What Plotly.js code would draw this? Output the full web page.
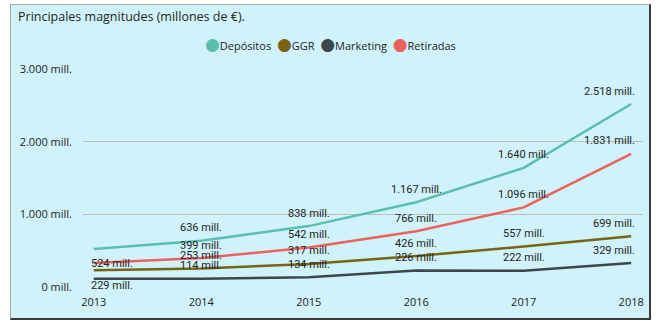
<!DOCTYPE html>
<html>
<head>
<meta charset="utf-8">
<script src="https://cdn.plot.ly/plotly-3.0.1.min.js"></script>
<style>
  html, body { margin: 0; padding: 0; background: #ffffff; }
  #wrap { position: relative; width: 660px; height: 328px; overflow: hidden; }
  #box { position: absolute; left: 10px; top: 4px; width: 638px; height: 313px;
         background: #cff2fb; border-top: 1px solid #a8a8a8; border-left: 1px solid #a8a8a8;
         border-right: 2px solid #3a3a3a; border-bottom: 2px solid #3a3a3a; }
  #chart { position: absolute; left: 0; top: 0; width: 660px; height: 328px; }
</style>
</head>
<body>
<div id="wrap"><div id="box"></div><div id="chart"></div></div>
<script>
const years = [2013, 2014, 2015, 2016, 2017, 2018];
const depositos = [524, 636, 838, 1167, 1640, 2518];
const ggr = [229, 253, 317, 426, 557, 699];
const marketing = [112, 114, 134, 226, 222, 329];
const retiradas = [330, 399, 542, 766, 1096, 1831];
const seriesNames = ['Depósitos', 'GGR', 'Marketing', 'Retiradas'];
const seriesColors = ['#5cbfae', '#7a6314', '#3b474b', '#ec615b'];
// which data labels are visible in the reference (others are hidden by overlap)
const labelShown = [
  [true, true, true, true, true, true],
  [true, true, true, true, true, true],
  [false, true, true, true, true, true],
  [false, true, true, true, true, true]
];
const labelBelow = [
  [true, false, false, false, false, false],
  [true, false, false, false, false, false],
  [false, false, false, false, false, false],
  [false, false, false, false, false, false]
];
const yTicks = [0, 1000, 2000, 3000];

const fmt = v => v.toLocaleString('de-DE') + ' mill.';
const values = [depositos, ggr, marketing, retiradas];
const textColor = '#252423';
const labelFont = { family: 'Roboto, "Noto Sans", sans-serif', size: 11, color: textColor };

const traces = values.map((vals, s) => ({
  type: 'scatter', mode: 'lines', x: years, y: vals,
  name: seriesNames[s], showlegend: false,
  line: { color: seriesColors[s], width: 2.5 }, hoverinfo: 'skip'
}));

const annotations = [];
values.forEach((vals, s) => {
  vals.forEach((v, i) => {
    if (!labelShown[s][i]) return;
    const first = i === 0, last = i === vals.length - 1;
    annotations.push({
      xref: 'x', yref: 'y', x: years[i], y: v, text: fmt(v), showarrow: false,
      font: labelFont, yanchor: 'middle',
      xanchor: first ? 'left' : (last ? 'right' : 'center'),
      xshift: first ? -5 : (last ? 6 : 0),
      yshift: labelBelow[s][i] ? -15 : 13
    });
  });
});

// legend drawn as a single centred text line with coloured dots
const legendText = seriesNames.map((n, s) =>
  '<span style="color:' + seriesColors[s] + ';font-size:17px;font-family:DejaVu Sans">●</span>' + n
).join('  ');
annotations.push({
  xref: 'paper', yref: 'paper', x: (330 - 83) / 560, y: (287.3 - 45) / 217.8,
  xanchor: 'center', yanchor: 'middle', showarrow: false, text: legendText,
  font: { family: '"Open Sans", "Noto Sans", sans-serif', size: 11, color: textColor }
});

const layout = {
  width: 660, height: 328,
  margin: { l: 83, r: 17, t: 69, b: 41 },
  paper_bgcolor: 'rgba(0,0,0,0)', plot_bgcolor: 'rgba(0,0,0,0)',
  separators: ',.',
  font: { family: '"Open Sans", "Noto Sans", sans-serif', size: 11, color: textColor },
  title: {
    text: 'Principales magnitudes (millones de €).',
    font: { family: '"Open Sans", "Noto Sans", sans-serif', size: 12.5, color: textColor },
    xref: 'container', yref: 'container', x: 18 / 660, xanchor: 'left',
    y: 1 - 17 / 328, yanchor: 'middle'
  },
  showlegend: false,
  xaxis: {
    range: [2012.9, 2018.11], tickvals: years, ticktext: years.map(String),
    showgrid: false, zeroline: false, showline: false, fixedrange: true,
    ticklabelstandoff: 7,
    tickfont: { size: 11, color: textColor }
  },
  yaxis: {
    range: [0, 3000], tickvals: yTicks, ticktext: yTicks.map(fmt),
    showgrid: true, gridcolor: '#bdbdbd', gridwidth: 1, zeroline: false,
    showline: false, ticklabelstandoff: 10, fixedrange: true,
    tickfont: { size: 11, color: textColor }
  },
  annotations: annotations
};

Plotly.newPlot('chart', traces, layout, { displayModeBar: false, staticPlot: true });
</script>
</body>
</html>
